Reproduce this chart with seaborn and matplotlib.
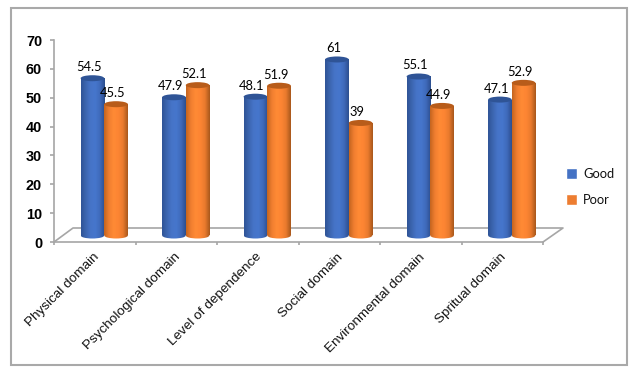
import numpy as np
import pandas as pd
import matplotlib
matplotlib.use("Agg")
import matplotlib.pyplot as plt
import seaborn as sns
from matplotlib.colors import LinearSegmentedColormap
from matplotlib.patches import Ellipse, Rectangle
from matplotlib.lines import Line2D

categories = ["Physical domain", "Psychological domain", "Level of dependence",
              "Social domain", "Environmental domain", "Spritual domain"]
good = [54.5, 47.9, 48.1, 61, 55.1, 47.1]
poor = [45.5, 52.1, 51.9, 39, 44.9, 52.9]
good_labels = ["54.5", "47.9", "48.1", "61", "55.1", "47.1"]
poor_labels = ["45.5", "52.1", "51.9", "39", "44.9", "52.9"]
series = ["Good", "Poor"]
yticks = [0, 10, 20, 30, 40, 50, 60, 70]

W, H = 638, 375
DPI = 100
sns.set_theme(style="white")
plt.rcParams["font.family"] = ["Liberation Sans", "DejaVu Sans"]

df = pd.DataFrame({
    "cat": categories * 2,
    "val": good + poor,
    "s": [series[0]] * 6 + [series[1]] * 6,
})

fig = plt.figure(figsize=(W / DPI, H / DPI), dpi=DPI, facecolor="white")


def axrect(l, r, top, bottom):
    return [l / W, 1 - bottom / H, (r - l) / W, (bottom - top) / H]


L, R, T, B = 54, 543, 40, 242
GRAY = "#a6a6a6"

# outer frame
fig.add_artist(Rectangle((10.5 / W, 1 - 365 / H), (626.5 - 10.5) / W, (365 - 8) / H,
                         transform=fig.transFigure, fill=False, ec="#a9a9a9", lw=1.5))

# main axes: ticks, labels, floor
ax = fig.add_axes(axrect(L, R, T, B))
ax.set_xlim(0, 6)
ax.set_ylim(0, 70)
ax.patch.set_alpha(0)
for s in ["top", "right"]:
    ax.spines[s].set_visible(False)
for s in ["left", "bottom"]:
    ax.spines[s].set_color(GRAY)
    ax.spines[s].set_linewidth(1.2)
ax.set_yticks(yticks)
ax.set_yticklabels([str(v) for v in yticks], fontsize=10.4, fontweight="bold", color="#000000")
ax.set_xticks(range(7))
ax.set_xticklabels([])
ax.tick_params(axis="y", length=3, width=1.2, color=GRAY, pad=5.6, left=True)
ax.tick_params(axis="x", length=2.5, width=1.2, color=GRAY, bottom=True)
for i, c in enumerate(categories):
    ax.annotate(c, xy=(i + 0.5, 0), xycoords="data", xytext=(-2, -9),
                textcoords="offset pixels", rotation=45, rotation_mode="anchor",
                ha="right", va="top", fontsize=9.7, color="#111111")

# floor (perspective plane)
fx = lambda p: (p - L) / (R - L)
fy = lambda p: (B - p) / (B - T)
ax.add_line(Line2D([fx(54), fx(73), fx(563), fx(543)], [fy(242), fy(228), fy(228), fy(242)],
                   transform=ax.transAxes, color=GRAY, lw=1.2, clip_on=False))

# bars axes, shifted to sit on the floor
bx = fig.add_axes(axrect(L + 9.5, R + 9.5, T - 6.5, B - 6.5))
bx.patch.set_alpha(0)
sns.barplot(data=df, x="cat", y="val", hue="s", order=categories, hue_order=series,
            palette=["#4472c4", "#ed7d31"], width=0.58, gap=0, saturation=1,
            legend=False, ax=bx)
bx.set_xlim(-0.5, 5.5)
bx.set_ylim(0, 70)
bx.axis("off")

cmaps = [
    LinearSegmentedColormap.from_list("b", ["#2f5496", "#3c66b0", "#4674c8", "#4676cc", "#3f6abb", "#2c4f8f"]),
    LinearSegmentedColormap.from_list("o", ["#c4651f", "#f07e30", "#ff8a35", "#fd8533", "#e97a2d", "#a9581c"]),
]
cap_colors = ["#2f5496", "#b85c1a"]
grad = np.linspace(0, 1, 64).reshape(1, -1)
cap_h = 6 / ((B - T) / 70)

for k, cont in enumerate(bx.containers):
    labels = [good_labels, poor_labels][k]
    for bar, lab in zip(cont, labels):
        x0, w, h = bar.get_x(), bar.get_width(), bar.get_height()
        bar.set_visible(False)
        z = 3 + k
        body = Rectangle((x0, 0), w, h, transform=bx.transData)
        low = Ellipse((x0 + w / 2, 0), w, cap_h, transform=bx.transData)
        for clip in (body, low):
            im = bx.imshow(grad, cmap=cmaps[k], aspect="auto", zorder=z,
                           extent=(x0, x0 + w, -cap_h, h), interpolation="bilinear")
            im.set_clip_box(fig.bbox)
            im.set_clip_path(clip)
        bx.add_patch(Ellipse((x0 + w / 2, h), w, cap_h, fc=cap_colors[k], ec="none", zorder=z + 0.1))
        bx.annotate(lab, xy=(x0 + w / 2, h), xycoords="data", xytext=(-3.5, 5),
                    textcoords="offset pixels", ha="center", va="bottom", fontsize=9.3,
                    family="Lato", color="#000000", zorder=10)

bx.set_xlim(-0.5, 5.5)
bx.set_ylim(0, 70)

# legend
handles = [Rectangle((0, 0), 1, 1, fc="#4472c4"), Rectangle((0, 0), 1, 1, fc="#ed7d31")]
leg = fig.legend(handles, series, loc="center left", bbox_to_anchor=(565.5 / W, 1 - 187 / H),
                 frameon=False, handlelength=0.9, handleheight=0.9,
                 handletextpad=0.45, labelspacing=1.05, borderpad=0, borderaxespad=0,
                 prop={"family": "Lato", "size": 9.3})
for t in leg.get_texts():
    t.set_color("#111111")

fig.savefig("out.png", dpi=DPI, facecolor="white")
